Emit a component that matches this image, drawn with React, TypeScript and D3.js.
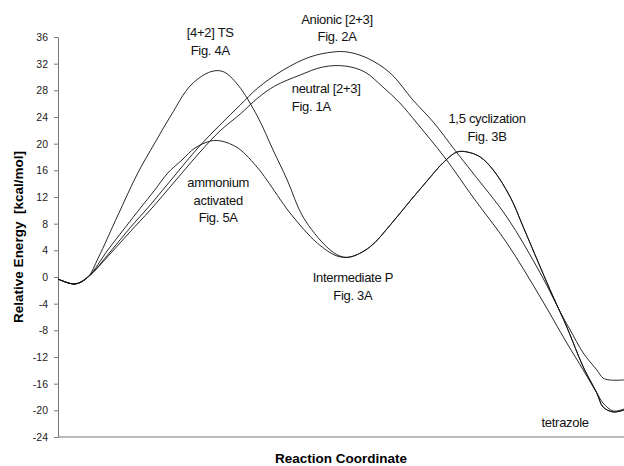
import { useEffect, useRef } from 'react'
import * as d3 from 'd3'

// 반응 좌표 (0~100), 에너지 [kcal/mol]
const ts42X = [0, 3.0, 5.3, 7.1, 10.6, 14.1, 17.1, 20.0, 23.5, 27.0, 29.2, 31.8, 35.3, 38.0, 40.5, 43.3, 47.5, 49.8, 51.6]
const ts42Y = [-0.3, -1.05, 0, 2.85, 9.3, 15.6, 20.1, 24.3, 28.8, 30.8, 30.8, 28.8, 24.0, 19.05, 14.55, 9.0, 4.5, 3.15, 3.0]

const ammoniumX = [0, 3.0, 5.3, 8.8, 11.8, 14.7, 17.1, 19.4, 21.9, 24.2, 27.0, 28.8, 31.8, 35.3, 36.9, 41.0, 45.8, 49.3, 51.6]
const ammoniumY = [-0.3, -1.05, 0, 4.05, 7.35, 10.5, 13.05, 15.6, 17.55, 19.35, 20.4, 20.4, 19.35, 16.35, 14.55, 9.6, 5.1, 3.15, 3.0]

// intermediate P -> 1,5 cyclization -> tetrazole
const cyclizationX = [55.1, 58.7, 62.2, 65.2, 68.0, 70.5, 72.3, 74.6, 76.9, 79.9, 82.2, 85.2, 87.5, 89.9, 92.8, 95.2, 96.3, 98.1, 100]
const cyclizationY = [4.5, 7.8, 11.4, 14.4, 17.1, 18.75, 18.75, 18.0, 16.05, 12.0, 7.5, 1.5, -3.0, -7.5, -13.5, -17.4, -19.5, -20.25, -19.95]

const anionicX = [0, 3.0, 5.3, 9.2, 12.7, 16.3, 20.7, 24.7, 28.6, 32.2, 35.3, 39.8, 44.5, 48.6, 51.1, 54.6, 58.7, 62.7, 66.3, 70.1, 73.3, 79.3, 85.2, 89.2, 90.5, 92.8, 95.2, 96.3, 97.5, 100]
const anionicY = [-0.3, -1.05, 0, 3.75, 7.35, 10.8, 15.3, 19.35, 22.8, 25.8, 28.35, 31.05, 33.0, 33.75, 33.75, 32.85, 30.6, 26.55, 23.25, 19.05, 15.6, 9.0, 0.6, -6.0, -7.95, -11.4, -13.95, -15.15, -15.45, -15.45]

const neutralX = [0, 3.0, 5.3, 9.2, 12.7, 16.3, 20.7, 25.1, 28.6, 32.2, 35.3, 38.3, 42.8, 46.8, 50.7, 54.2, 57.4, 60.4, 63.4, 68.4, 73.3, 79.3, 85.2, 89.9, 92.8, 95.2, 96.3, 98.1, 100]
const neutralY = [-0.3, -1.05, 0, 3.45, 6.75, 10.05, 14.4, 18.75, 21.9, 24.45, 26.85, 28.65, 30.3, 31.5, 31.65, 30.75, 28.5, 26.1, 23.1, 17.85, 12.0, 5.1, -3.0, -9.9, -13.95, -17.4, -18.9, -20.1, -19.8]

const yTicks = [-24, -20, -16, -12, -8, -4, 0, 4, 8, 12, 16, 20, 24, 28, 32, 36]

// 주석 (텍스트, 반응좌표, 에너지 위치)
const labels: Array<{ lines: string[]; x: number; y: number; anchor: string }> = [
  { lines: ['[4+2] TS', 'Fig. 4A'], x: 26.9, y: 36.0, anchor: 'middle' },
  { lines: ['Anionic [2+3]', 'Fig. 2A'], x: 49.3, y: 38.0, anchor: 'middle' },
  { lines: ['neutral [2+3]', 'Fig. 1A'], x: 41.3, y: 27.6, anchor: 'start' },
  { lines: ['ammonium', 'activated', 'Fig. 5A'], x: 28.3, y: 13.5, anchor: 'middle' },
  { lines: ['Intermediate P', 'Fig. 3A'], x: 52.1, y: -0.75, anchor: 'middle' },
  { lines: ['1,5 cyclization', 'Fig. 3B'], x: 75.8, y: 23.1, anchor: 'middle' },
  { lines: ['tetrazole'], x: 89.6, y: -22.5, anchor: 'middle' },
]

const FONT = '"Liberation Sans", Arial, sans-serif'

export default function App() {
  const svgRef = useRef<SVGSVGElement | null>(null)
  const W = 624
  const H = 466

  useEffect(() => {
    if (!svgRef.current) return
    const svg = d3.select(svgRef.current)
    svg.selectAll('*').remove()

    const x = d3.scaleLinear().domain([0, 100]).range([58, 624])
    const y = d3.scaleLinear().domain([-24, 36]).range([437, 37])

    // y축
    const ay = svg
      .append('g')
      .attr('transform', `translate(${x(0)},0)`)
      .call(
        d3
          .axisLeft(y)
          .tickValues(yTicks)
          .tickSize(4)
          .tickSizeOuter(0)
          .tickPadding(6)
          .tickFormat((d) => `${d}`),
      )
    ay.select('.domain').attr('stroke', '#777')
    ay.selectAll('.tick line').attr('stroke', '#777')
    ay.selectAll('.tick text')
      .attr('font-family', FONT)
      .attr('font-size', 10.5)
      .attr('fill', '#222')

    // x축 (눈금 없음)
    svg
      .append('line')
      .attr('x1', x(0))
      .attr('x2', x(100))
      .attr('y1', y(-24))
      .attr('y2', y(-24))
      .attr('stroke', '#777')

    const series = [
      { xs: ts42X.concat(cyclizationX), ys: ts42Y.concat(cyclizationY) },
      { xs: ammoniumX.concat(cyclizationX), ys: ammoniumY.concat(cyclizationY) },
      { xs: anionicX, ys: anionicY },
      { xs: neutralX, ys: neutralY },
    ]

    const line = d3
      .line<[number, number]>()
      .x((d) => x(d[0]))
      .y((d) => y(d[1]))
      .curve(d3.curveCatmullRom.alpha(0.5))

    svg
      .append('g')
      .attr('fill', 'none')
      .attr('stroke', '#111')
      .attr('stroke-width', 0.9)
      .selectAll('path')
      .data(series)
      .join('path')
      .attr('d', (s) => line(s.xs.map((v, i) => [v, s.ys[i]] as [number, number])))

    // 주석
    const lg = svg.append('g').attr('font-family', FONT).attr('font-size', 13).attr('fill', '#111')
    labels.forEach((l) => {
      const t = lg
        .append('text')
        .attr('x', x(l.x))
        .attr('y', y(l.y))
        .attr('text-anchor', l.anchor)
        .attr('letter-spacing', -0.3)
      l.lines.forEach((s, i) => {
        t.append('tspan')
          .attr('x', x(l.x))
          .attr('dy', i === 0 ? 0 : 17.5)
          .text(s)
      })
    })

    // 축 제목
    svg
      .append('text')
      .attr('x', 341)
      .attr('y', 463)
      .attr('text-anchor', 'middle')
      .attr('font-family', FONT)
      .attr('font-weight', 'bold')
      .attr('font-size', 13.5)
      .text('Reaction Coordinate')

    svg
      .append('text')
      .attr('transform', `translate(23,237) rotate(-90)`)
      .attr('text-anchor', 'middle')
      .attr('font-family', FONT)
      .attr('font-weight', 'bold')
      .attr('font-size', 13.5)
      .attr('xml:space', 'preserve')
      .style('white-space', 'pre')
      .text('Relative Energy  [kcal/mol]')
  }, [])

  return (
    <svg
      ref={svgRef}
      width={W}
      height={H}
      style={{ position: 'absolute', left: 0, top: 0, background: '#fff' }}
    />
  )
}
